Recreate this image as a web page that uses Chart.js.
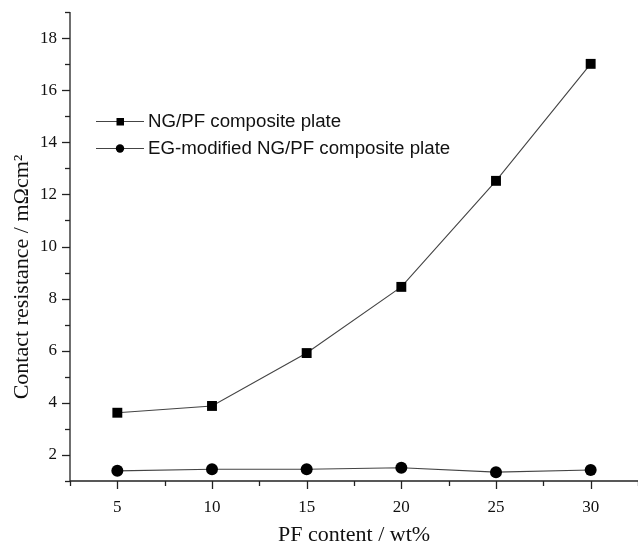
<!DOCTYPE html>
<html><head><meta charset="utf-8">
<script src="https://cdn.jsdelivr.net/npm/chart.js@4/dist/chart.umd.min.js"></script>
<style>html,body{margin:0;padding:0;background:#fff}#wrap{width:638px;height:544px}</style>
</head><body><div id="wrap"><canvas id="c" width="638" height="544"></canvas></div>
<script>
const pfContent = [5, 10, 15, 20, 25, 30];
const ngPF = [3.62, 3.88, 5.91, 8.45, 12.52, 17.01];
const egModified = [1.39, 1.45, 1.45, 1.51, 1.34, 1.42];
const seriesNames = ['NG/PF composite plate', 'EG-modified NG/PF composite plate'];
const xTitle = 'PF content / wt%';
const yTitle = 'Contact resistance / m\u03A9cm\u00B2';

const serif = 'Liberation Serif, Times New Roman, serif';

const tickPlugin = {
  id: 'ticks',
  afterDraw(chart) {
    const ctx = chart.ctx;
    const xs = chart.scales.x, ys = chart.scales.y;
    const ca = chart.chartArea;
    ctx.save();
    ctx.strokeStyle = '#222';
    ctx.lineWidth = 1.3;
    ctx.beginPath();
    ctx.moveTo(ca.left, ca.top); ctx.lineTo(ca.left, ca.bottom); ctx.lineTo(ca.right, ca.bottom);
    ctx.stroke();
    ys.ticks.forEach(t => {
      const y = Math.round(ys.getPixelForValue(t.value)) + 0.5;
      const major = t.value % 2 === 0;
      ctx.beginPath(); ctx.moveTo(ca.left, y); ctx.lineTo(ca.left - (major ? 8 : 5), y); ctx.stroke();
    });
    xs.ticks.forEach(t => {
      const x = Math.round(xs.getPixelForValue(t.value)) + 0.5;
      const major = t.value % 5 === 0;
      ctx.beginPath(); ctx.moveTo(x, ca.bottom); ctx.lineTo(x, ca.bottom + (major ? 8 : 5)); ctx.stroke();
    });
    // y axis title
    ctx.save();
    ctx.translate(22, 277);
    ctx.rotate(-Math.PI / 2);
    ctx.font = '22px ' + serif;
    ctx.fillStyle = '#111';
    ctx.textAlign = 'center';
    ctx.textBaseline = 'middle';
    ctx.fillText(yTitle, 0, 0);
    ctx.restore();
    // legend
    const items = chart.data.datasets;
    ctx.font = '18.7px Liberation Sans, Arial, sans-serif';
    ctx.textBaseline = 'middle';
    items.forEach((ds, i) => {
      const y = 121 + i * 27;
      ctx.strokeStyle = '#444'; ctx.lineWidth = 1;
      ctx.beginPath(); ctx.moveTo(96, y + 0.5); ctx.lineTo(144, y + 0.5); ctx.stroke();
      ctx.fillStyle = '#000';
      if (ds.pointStyle === 'rect') { ctx.fillRect(116.5, y - 3, 7.5, 7.5); }
      else { ctx.beginPath(); ctx.arc(120, y + 0.5, 4.2, 0, Math.PI * 2); ctx.fill(); }
      ctx.fillStyle = '#111';
      ctx.fillText(ds.label, 148, y + 1);
    });
    ctx.restore();
  }
};

new Chart(document.getElementById('c'), {
  type: 'line',
  data: {
    datasets: [
      { label: seriesNames[0], data: pfContent.map((x, i) => ({x, y: ngPF[i]})),
        borderColor: '#444', borderWidth: 1.1, pointStyle: 'rect', pointRadius: 7,
        pointBackgroundColor: '#000', pointBorderColor: '#000', pointBorderWidth: 0, tension: 0 },
      { label: seriesNames[1], data: pfContent.map((x, i) => ({x, y: egModified[i]})),
        borderColor: '#444', borderWidth: 1.1, pointStyle: 'circle', pointRadius: 6,
        pointBackgroundColor: '#000', pointBorderColor: '#000', pointBorderWidth: 0, tension: 0 }
    ]
  },
  options: {
    responsive: false, animation: false, devicePixelRatio: 1,
    layout: { autoPadding: false, padding: { top: 12, right: 0, left: 0, bottom: 0 } },
    plugins: { legend: { display: false }, tooltip: { enabled: false } },
    scales: {
      x: {
        type: 'linear', min: 2.5, max: 32.5,
        border: { display: false },
        grid: { display: false },
        ticks: { stepSize: 2.5, color: '#111', font: { family: serif, size: 17 }, padding: 8,
          autoSkip: false, maxRotation: 0,
          callback: v => (v % 5 === 0 ? String(v) : '') },
        title: { display: true, text: xTitle, color: '#111', font: { family: serif, size: 22, lineHeight: 1 }, padding: { top: 6, bottom: -2 } },
        afterFit: s => { s.height = 63; s.paddingLeft = 0; s.paddingRight = 0; }
      },
      y: {
        type: 'linear', min: 1, max: 19,
        border: { display: false },
        grid: { display: false },
        ticks: { stepSize: 1, color: '#111', font: { family: serif, size: 17 }, padding: 5,
          autoSkip: false,
          callback: v => (v % 2 === 0 ? String(v) : '') },
        title: { display: false },
        afterFit: s => { s.width = 70; s.paddingTop = 0; s.paddingBottom = 0; }
      }
    }
  },
  plugins: [tickPlugin]
});
</script></body></html>
